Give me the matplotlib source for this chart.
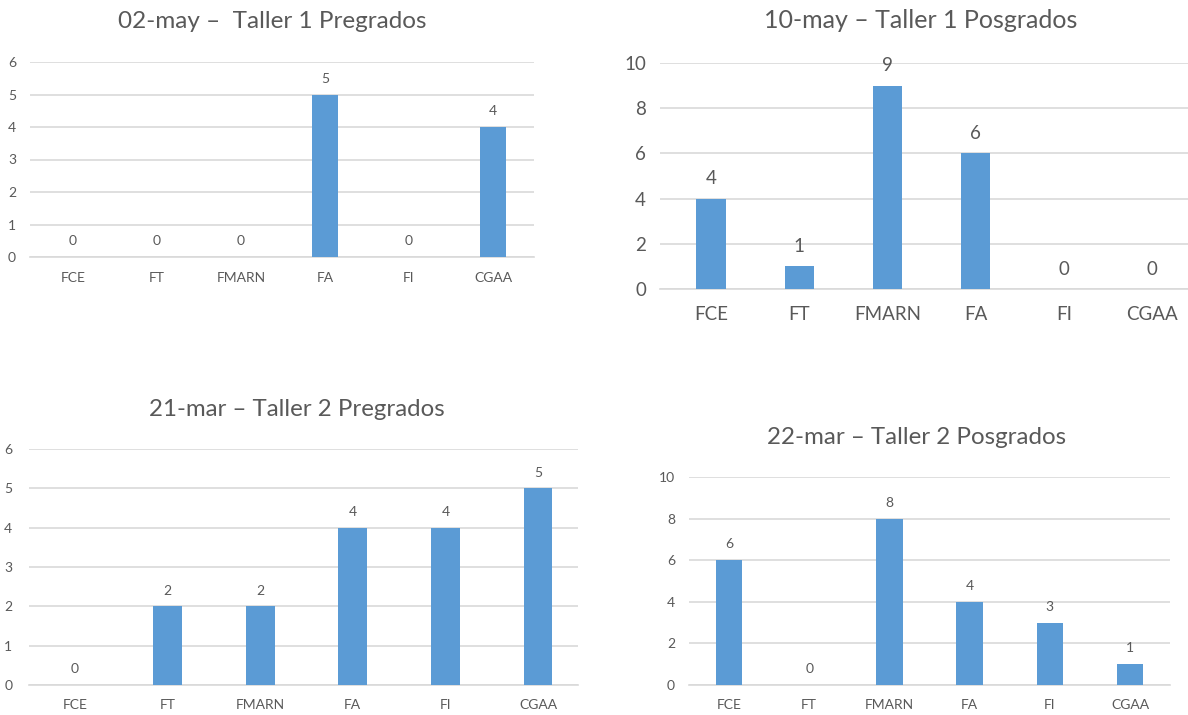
import matplotlib
matplotlib.use("Agg")
import matplotlib.pyplot as plt
import numpy as np

plt.rcParams['font.family'] = ['Lato', 'DejaVu Sans']

# === Data ===
categories = ["FCE", "FT", "FMARN", "FA", "FI", "CGAA"]

titles = [
    "02-may \u2013  Taller 1 Pregrados",
    "10-may \u2013 Taller 1 Posgrados",
    "21-mar \u2013 Taller 2 Pregrados",
    "22-mar \u2013 Taller 2 Posgrados",
]
taller1_pregrado = [0, 0, 0, 5, 0, 4]
taller1_posgrado = [4, 1, 9, 6, 0, 0]
taller2_pregrado = [0, 2, 2, 4, 4, 5]
taller2_posgrado = [6, 0, 8, 4, 3, 1]

BAR = "#5B9BD5"
GRID = "#D9D9D9"
TXT = "#595959"
W, H = 1188, 715

fig = plt.figure(figsize=(W / 100, H / 100), dpi=100)


# panels are laid out in pixel coordinates of the original image
def make_panel(values, title, x0, x1, ytop, ybot, first_center, spacing,
               ymax, ystep, barw, fs, title_xy, title_fs, lab_off, xpad, ypad):
    ax = fig.add_axes([x0 / W, 1 - ybot / H, (x1 - x0) / W, (ybot - ytop) / H])
    width_px = x1 - x0
    xmin = -(first_center - x0) / spacing
    xmax = xmin + width_px / spacing
    x = np.arange(len(categories))
    ax.bar(x, values, width=barw, color=BAR, zorder=3)
    ax.set_xlim(xmin, xmax)
    ax.set_ylim(0, ymax)
    ax.set_yticks(np.arange(0, ymax + 0.1, ystep))
    ax.set_xticks(x)
    ax.set_xticklabels(categories)
    ax.yaxis.grid(True, color=GRID, linewidth=1.2, zorder=0)
    ax.set_axisbelow(True)
    for s in ["top", "right", "left"]:
        ax.spines[s].set_visible(False)
    ax.spines["bottom"].set_color(GRID)
    ax.spines["bottom"].set_linewidth(1.2)
    ax.tick_params(length=0, labelsize=fs, colors=TXT)
    ax.tick_params(axis="x", pad=xpad)
    ax.tick_params(axis="y", pad=ypad)
    for xi, v in zip(x, values):
        ax.annotate(str(v), (xi, v), xytext=(0, lab_off), textcoords="offset points",
                    ha="center", va="bottom", fontsize=fs, color=TXT)
    fig.text(title_xy[0] / W, 1 - title_xy[1] / H, title, ha="center", va="center",
             fontsize=title_fs, color=TXT)
    return ax


make_panel(taller1_pregrado, titles[0], 30, 534, 62, 257, 73, 84,
           6, 1, 0.3, 10, (272, 22), 17.5, 7, 11, 10)
make_panel(taller1_posgrado, titles[1], 660, 1188, 63, 289, 711, 88.2,
           10, 2, 0.33, 13.5, (921, 20), 18, 8, 12, 10)
make_panel(taller2_pregrado, titles[2], 29, 578, 449, 685, 75, 92.6,
           6, 1, 0.31, 10, (297, 410), 17.3, 7, 10, 12)
make_panel(taller2_posgrado, titles[3], 689, 1170, 477, 685, 729, 80.2,
           10, 2, 0.33, 10, (917, 437), 17.4, 7, 10, 10)

fig.savefig("out.png", dpi=100, facecolor="white")
